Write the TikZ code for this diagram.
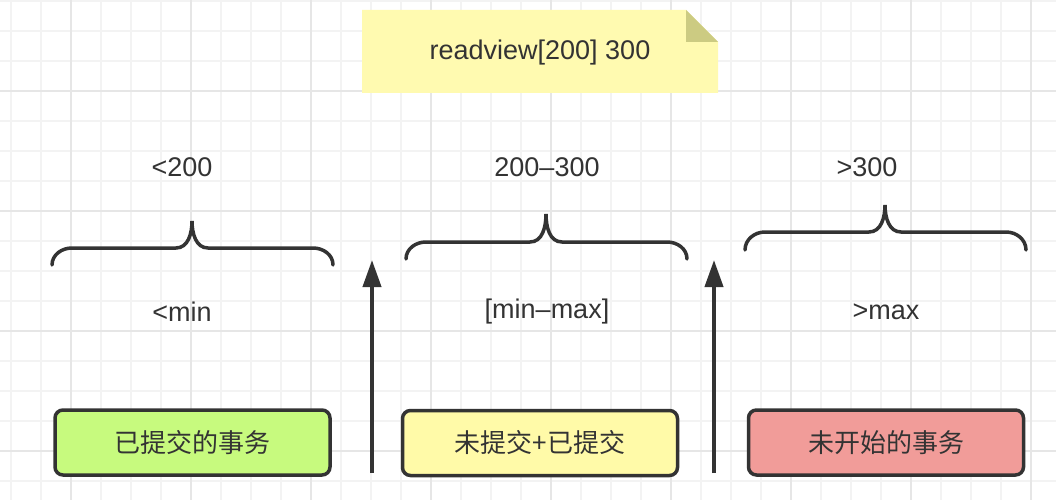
\documentclass[tikz,border=0pt]{standalone}
\usepackage{fontspec}
\setmainfont{Liberation Sans}
\newfontfamily\cjk{Noto Sans CJK SC}
\usetikzlibrary{arrows.meta}
\definecolor{ink}{HTML}{333333}
\definecolor{gridminor}{HTML}{F3F3F3}
\definecolor{gridmajor}{HTML}{E6E6E6}
\definecolor{notefill}{HTML}{FFFAB0}
\definecolor{notefold}{HTML}{CCCB82}
\definecolor{boxgreen}{HTML}{C7FA7E}
\definecolor{boxyellow}{HTML}{FFFAA8}
\definecolor{boxred}{HTML}{F19C99}
\newcommand\mybrace[6]{%
  \draw[bracestyle] (#1,#6) to[out=90,in=180] (#1+20,#5) -- (#3-16,#5)
    to[out=0,in=-90] (#3,#4) to[out=-90,in=180] (#3+16,#5) -- (#2-20,#5)
    to[out=0,in=90] (#2,#6);}
\begin{document}
\begin{tikzpicture}[x=1pt,y=-1pt,
  txt/.style={text=ink,font=\fontsize{27}{31}\selectfont,inner sep=0pt},
  cjktxt/.style={text=ink,font=\cjk\fontsize{26}{30}\selectfont},
  box/.style={draw=ink,line width=3.5pt,rounded corners=8pt,minimum width=275pt,minimum height=65pt,inner sep=0pt},
  bracestyle/.style={draw=ink,line width=3.5pt,line cap=round},
  arr/.style={draw=ink,line width=4pt,-{Triangle[length=27pt,width=18pt]}},
  minorline/.style={draw=gridminor,line width=1.2pt},
  majorline/.style={draw=gridmajor,line width=1.2pt}]
\useasboundingbox (0,0) rectangle (1056,500);
\fill[white] (0,0) rectangle (1056,500);
% grid
\foreach \x in {11,41,...,1055} \draw[minorline] (\x,0) -- (\x,500);
\foreach \y in {1,31,...,499} \draw[minorline] (0,\y) -- (1056,\y);
\foreach \x in {71,191,...,1055} \draw[majorline] (\x,0) -- (\x,500);
\foreach \y in {91,211,331,451} \draw[majorline] (0,\y) -- (1056,\y);
% note
\fill[notefill] (362,10) -- (686,10) -- (718,42) -- (718,93) -- (362,93) -- cycle;
\fill[notefold] (686,10) -- (686,42) -- (718,42) -- cycle;
\node[txt] (note) at (540,53) {readview[200] 300};
% range labels
\node[txt] (l1) at (182,167) {<200};
\node[txt] (l2) at (547,167) {200–300};
\node[txt] (l3) at (867,167) {>300};
% braces
\mybrace{52}{333}{192}{221}{248}{265}
\mybrace{406}{687}{546}{214}{242}{259}
\mybrace{745}{1026}{885}{205}{232}{250}
% lower labels
\node[txt] (m1) at (182,312) {<min};
\node[txt] (m2) at (547,312) {[min–max]};
\node[txt] (m3) at (886,312) {>max};
% boxes
\node[box,fill=boxgreen,cjktxt] (b1) at (192.5,442.5) {已提交的事务};
\node[box,fill=boxyellow,cjktxt] (b2) at (540,443) {未提交+已提交};
\node[box,fill=boxred,cjktxt] (b3) at (886,442.5) {未开始的事务};
% arrows
\coordinate (a1s) at (372,473);
\coordinate (a1e) at (372,260);
\coordinate (a2s) at (714,473);
\coordinate (a2e) at (714,260);
\draw[arr] (a1s) -- (a1e);
\draw[arr] (a2s) -- (a2e);
\end{tikzpicture}
\end{document}
